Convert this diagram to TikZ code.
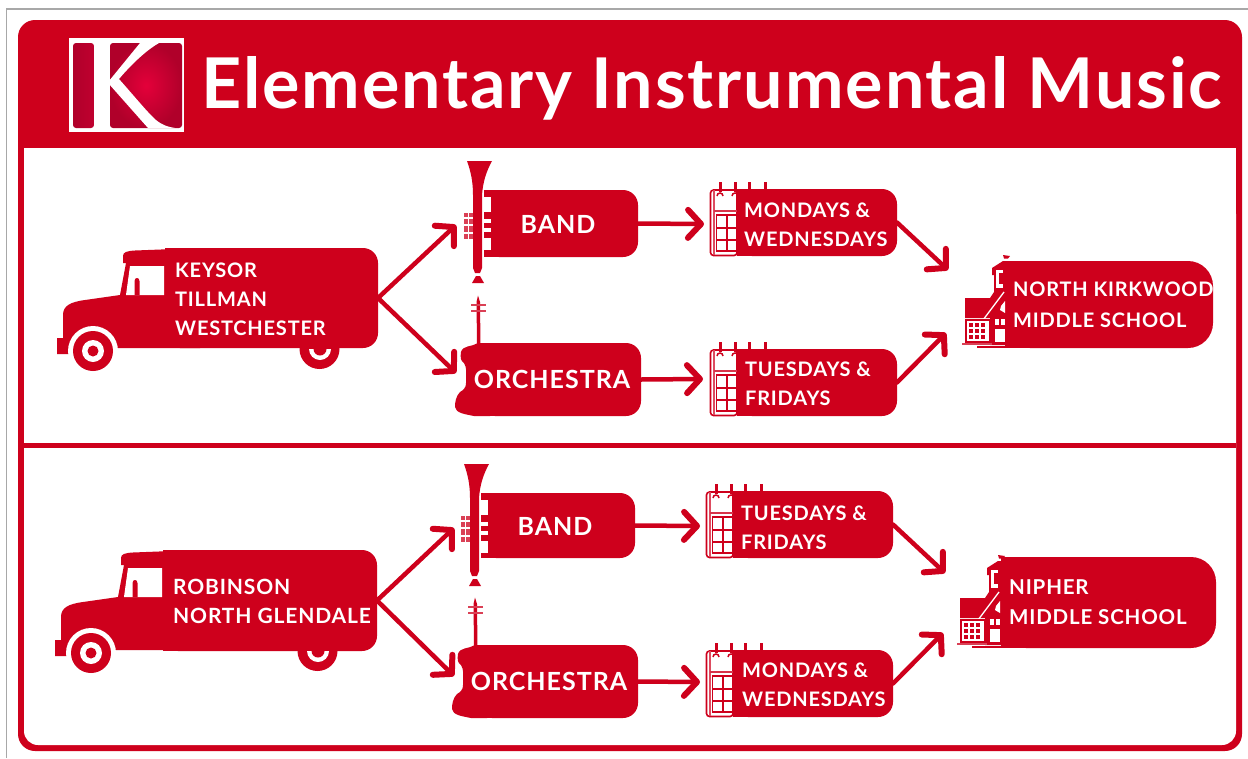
\documentclass[tikz,border=0pt]{standalone}
\usepackage{fontspec}
\setmainfont{Lato}[LetterSpace=4]
\newfontfamily\titlefont{Lato}[LetterSpace=2.7]
\usetikzlibrary{arrows.meta}
\definecolor{kred}{HTML}{CE001C}
\definecolor{kdark}{HTML}{B0002A}
\definecolor{kglow}{HTML}{E4003A}
\definecolor{kgray}{HTML}{A8A8A8}
\tikzset{
  redbox/.style={fill=kred,draw=none,inner sep=0pt,outer sep=0pt,rounded corners=#1},
  redbox/.default=15pt,
  lbl/.style={text=white,inner sep=0pt,anchor=west,align=left,font=\fontsize{20}{29}\selectfont\bfseries},
  biglbl/.style={text=white,inner sep=0pt,font=\fontsize{25}{30}\selectfont\bfseries},
  flow/.style={draw=kred,line width=4.5pt,line cap=round,-{Straight Barb[length=13pt,width=28pt,line width=6pt,round]}},
  truckpic/.pic={
    \fill[kred] (200,248) -- (135,250.5) .. controls (127,251) and (123,252) .. (123,256) -- (123,263) -- (126,263) -- (120,295)
      -- (85,300) .. controls (70,302) and (63,306) .. (63,315) -- (63,338) -- (57,338) -- (57,354) -- (72,354) -- (93,346) -- (118,348) -- (200,348) -- cycle;
    \fill[white] (130,266) -- (164,266) -- (164,295) -- (126,295) -- cycle;
    \fill[kred] (134.5,295) -- (134.5,281) .. controls (134.5,277) and (139.5,277) .. (139.5,281) -- (139.5,295) -- cycle;
    \fill[white] (93,351) circle (25);
    \fill[kred] (93,351) circle (20);
    \fill[white] (93,351) circle (11);
    \fill[kred] (93,351) circle (5.5);
    \fill[kred] (319.5,349) circle (20);
    \begin{scope}
      \clip (300,349) rectangle (340,375);
      \fill[white] (320,349) circle (11);
      \fill[kred] (320,349) circle (6.5);
    \end{scope}
  },
  trumpetpic/.pic={
    \fill[kred] (467,161) -- (492,161) .. controls (486,172) and (483,182) .. (482,195) -- (482,268) -- (480,273) -- (475,273) -- (473,268) -- (473,195) .. controls (473,182) and (471,172) .. (467,161) -- cycle;
    \fill[kred] (476,276) -- (480,276) -- (484,283) -- (472,283) -- cycle;
    \fill[kred!75] (464,213) rectangle (473,239);
    \fill[white] (484,197) rectangle (491,212);
    \fill[white] (484,219) rectangle (491,222.5);
    \fill[white] (484,228) rectangle (491,232);
    \fill[white] (484,238) rectangle (491,250);
    \foreach \yy in {217,224,232}{\fill[white] (464,\yy) rectangle (473,\yy+1.6);}
    \fill[white] (468,213) rectangle (469.2,239);
  },
  violinpic/.pic={
    \fill[kred] (477,345) -- (476.5,302) -- (478,295.5) -- (480,302) -- (480.5,345) -- cycle;
    \fill[kred!75] (471,304) rectangle (486,306);
    \fill[kred!75] (471,309.5) rectangle (486,311.5);
    \fill[kred] (490,343) -- (478,343) .. controls (472,347) and (463,345) .. (461,352) .. controls (460,358) and (461,361) .. (464,363) .. controls (467,368) and (466,372) .. (466,378) .. controls (466,385) and (467,388) .. (460,392) .. controls (456,396) and (455,402) .. (455,407) .. controls (456,413) and (464,414) .. (474,416) -- (490,416) -- cycle;
  },
  calendarpic/.pic={
    \filldraw[fill=white,draw=kred,line width=1.6pt,rounded corners=3pt] (710.5,190) -- (737,190) -- (737,255.5) -- (710.5,255.5) -- cycle;
    \draw[kred!70,line width=1.2pt] (714,190) -- (714,255);
    \draw[kred!80,line width=1.6pt] (714,211) -- (737,211);
    \fill[kred] (715.5,214) rectangle (738,252);
    \foreach \xx/\yy/\hh in {717/216/10.5,727.5/216/10.5,717/228.5/10.5,727.5/228.5/10.5,717/241/8.5,727.5/241/8.5}{\fill[white] (\xx,\yy) rectangle ++(8.8,\hh);}
    \foreach \xx in {720,735,749,765}{\fill[kred] (\xx-1.5,182) rectangle (\xx+1.5,192);}
    \draw[kred,line width=1.5pt] (717,196) arc (180:360:3);
    \draw[kred,line width=1.5pt] (732,196) arc (180:300:3);
  },
  schoolpic/.pic={
    \fill[kred] (1012,261) -- (1003,261) -- (992,268) -- (992,275) -- (994,275) -- (994,292) -- (990,298) -- (965,298) -- (965,318) -- (990,318) -- (990,345) -- (1012,345) -- cycle;
    \fill[kred] (1003,255) -- (1010,256) -- (1008,258.5) -- (1004,258.5) -- cycle;
    \fill[white] (996,270) rectangle (1003,288);
    \fill[kred] (999,273) rectangle (1003,284);
    \draw[white,line width=1.3pt] (1004,292) -- (983,320);
    \fill[white] (1005,301) -- (1001,306) -- (1000,310) -- (1005,313) -- cycle;
    \filldraw[fill=white,draw=kred,line width=1.2pt] (966,320) rectangle (990,342);
    \foreach \xx in {969,975,981}{\foreach \yy in {323,329,335}{\fill[kred] (\xx,\yy) rectangle ++(4,4);}}
    \fill[white] (995,319) rectangle (999,325);
    \fill[white] (1001,319) rectangle (1005,325);
    \fill[white] (995,329) rectangle (1005,342);
    \fill[kred!75] (962,343) rectangle (992,345);
    \fill[kred] (977,346) rectangle (1030,348);
  }
}
\newcommand{\rbox}[6][15pt]{%
  \pgfmathsetmacro{\rw}{#5-#3}\pgfmathsetmacro{\rh}{#6-#4}%
  \pgfmathsetmacro{\rx}{(#3+#5)/2}\pgfmathsetmacro{\ry}{(#4+#6)/2}%
  \node[redbox=#1,minimum width=\rw pt,minimum height=\rh pt] (#2) at (\rx,\ry) {};
  \fill[kred] (#2.north west) rectangle ([xshift=30pt]#2.south west);}
\begin{document}
\begin{tikzpicture}[x=1pt,y=-1pt]
\useasboundingbox (0,0) rectangle (1248,758);
\fill[white] (0,0) rectangle (1248,758);
\draw[kgray,line width=1.6pt] (6.5,758) -- (6.5,9) -- (1248,9);
% frame
\fill[kred,rounded corners=17pt] (18,20) rectangle (1242,751);
\fill[white,rounded corners=14pt] (24,200) -- (24,745) -- (1236,745) -- (1236,200) -- cycle;
\fill[white] (24,148) rectangle (1236,300);
\fill[kred] (24,443) rectangle (1236,448);
% logo
\fill[white] (69,38) rectangle (184,132);
\shade[left color=kdark,right color=kdark!70!kglow,rounded corners=3pt] (73,43) rectangle (94,128);
\shade[inner color=kglow,outer color=kdark,rounded corners=3pt] (110,43) rectangle (182,128);
\fill[white] (95,43) rectangle (110,128);
\fill[white] (109,81) -- (140,43) -- (159,43) .. controls (150,48) and (135,60) .. (119,79) .. controls (135,97) and (148,113) .. (156,120) .. controls (162,125) and (168,127) .. (175,128) -- (148,128) -- (109,84) -- cycle;
% boxes
\rbox{truckA}{165}{248}{378}{348}
\rbox{bandA}{484}{190}{638}{257}
\rbox{orchA}{480}{343}{641}{416}
\rbox{calA}{737}{189}{897}{256}
\rbox{calB}{737}{349}{897}{416}
\rbox[25pt]{schoolA}{1005}{261}{1213}{348}
\rbox{truckB}{163}{550}{377}{651}
\rbox{bandB}{481}{493}{635}{558}
\rbox{orchB}{477}{645}{638}{718}
\rbox{calC}{733}{491}{893}{558}
\rbox{calD}{733}{650}{893}{717}
\rbox[25pt]{schoolB}{1001}{557}{1216}{648}
% icons
\pic at (0,0) {truckpic};
\pic at (-2,302) {truckpic};
\pic at (0,0) {trumpetpic};
\pic at (-3,303) {trumpetpic};
\pic at (0,0) {violinpic};
\pic at (-3,302) {violinpic};
\pic at (0,0) {calendarpic};
\pic at (0,160) {calendarpic};
\pic at (-4,302) {calendarpic};
\pic at (-4,461) {calendarpic};
\pic at (0,0) {schoolpic};
\pic at (-5,300) {schoolpic};
% labels
\node[text=white,inner sep=0pt,anchor=base west,font=\fontsize{70}{70}\selectfont\bfseries\titlefont] (title) at (201,108) {Elementary Instrumental Music};
\node[lbl] (tTruckA) at (175,299) {KEYSOR\\TILLMAN\\WESTCHESTER};
\node[lbl,font=\fontsize{21}{29}\selectfont\bfseries] (tTruckB) at (173,601.5) {ROBINSON\\NORTH GLENDALE};
\node[biglbl] (tBandA) at (558,224) {BAND};
\node[biglbl] (tBandB) at (555,526) {BAND};
\node[biglbl] (tOrchA) at (552,379) {ORCHESTRA};
\node[biglbl] (tOrchB) at (549,681) {ORCHESTRA};
\node[lbl] (tCalA) at (744,224.5) {MONDAYS \&\\WEDNESDAYS};
\node[lbl] (tCalB) at (745,383.5) {TUESDAYS \&\\FRIDAYS};
\node[lbl] (tCalC) at (741,527.5) {TUESDAYS \&\\FRIDAYS};
\node[lbl] (tCalD) at (742,684.5) {MONDAYS \&\\WEDNESDAYS};
\node[lbl,font=\fontsize{20}{31}\selectfont\bfseries] (tSchoolA) at (1013,304.5) {NORTH KIRKWOOD\\MIDDLE SCHOOL};
\node[lbl,font=\fontsize{20.5}{30}\selectfont\bfseries] (tSchoolB) at (1009,602) {NIPHER\\MIDDLE SCHOOL};
% connector targets
\coordinate (inBandA) at (456,225);
\coordinate (inOrchA) at (456,373);
\coordinate (inCalA) at (704,224);
\coordinate (inCalB) at (703,379);
\coordinate (inSchA1) at (948,270);
\coordinate (inSchA2) at (946,333);
\coordinate (inBandB) at (454,528);
\coordinate (inOrchB) at (454,676);
\coordinate (inCalC) at (700,526);
\coordinate (inCalD) at (700,682);
\coordinate (inSchB1) at (945,573);
\coordinate (inSchB2) at (943,633);
% connectors
\draw[flow] (truckA.east) -- (inBandA);
\draw[flow] (truckA.east) -- (inOrchA);
\draw[flow] (bandA.east) -- (inCalA);
\draw[flow] (orchA.east) -- (inCalB);
\draw[flow] (calA.east) -- (inSchA1);
\draw[flow] (calB.east) -- (inSchA2);
\draw[flow] (truckB.east) -- (inBandB);
\draw[flow] (truckB.east) -- (inOrchB);
\draw[flow] (bandB.east) -- (inCalC);
\draw[flow] (orchB.east) -- (inCalD);
\draw[flow] (calC.east) -- (inSchB1);
\draw[flow] (calD.east) -- (inSchB2);
\end{tikzpicture}
\end{document}
